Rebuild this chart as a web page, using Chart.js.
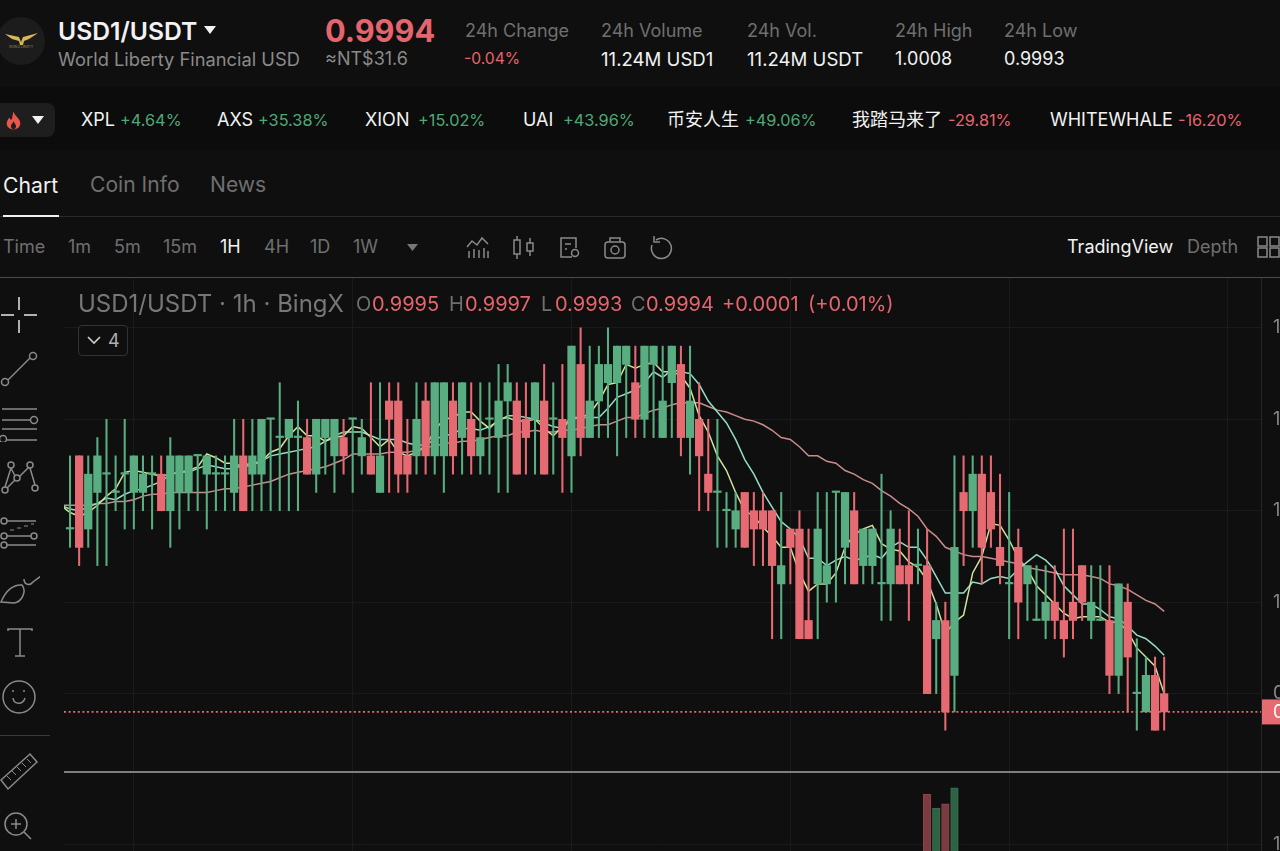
<!DOCTYPE html>
<html>
<head>
<meta charset="utf-8">
<title>USD1/USDT</title>
<script src="https://cdn.jsdelivr.net/npm/chart.js@4"></script>
<style>
  html, body { margin: 0; padding: 0; background: #0f0f0f; }
  body { position: relative; width: 1280px; height: 851px; overflow: hidden; font-family: Inter, "Noto Sans CJK SC", sans-serif; color: #8a8a8a; }
  .t { position: absolute; white-space: nowrap; font-size: 18px; line-height: 24px; transform: translateY(-50%); }
  .w { color: #f2f2f2; }
  .g { color: #8a8a8a; }
  .dim { color: #6f6f6f; }
  .r { color: #e5656e; }
  .u { color: #4fa877; }
  .p { font-size: 16.3px; }
  .o { font-size: 20px; }
  .hr { position: absolute; left: 0; width: 1280px; }
  svg.i { position: absolute; fill: none; stroke: #8a8a8a; stroke-width: 1.5; }
  canvas { position: absolute; }
</style>
</head>
<body>

<svg style="position:absolute;left:-3px;top:17px" width="48" height="48" viewBox="0 0 48 48">
  <circle cx="24" cy="24" r="24" fill="#1c1c1c"/>
  <path d="M8 17 L22 20 L24 25 L26 20 L41 16 L32 22 L27 24 L26 28 L23 28 L22 24 L15 22 Z" fill="#d9b65c"/>
  <text x="24" y="31" text-anchor="middle" font-size="3" fill="#a58a45" font-family="Inter">WORLD LIBERTY</text>
</svg>
<div class="t w" style="left:58px;top:30.5px;font-size:24.7px;font-weight:600">USD1/USDT</div>
<svg style="position:absolute;left:204px;top:26px" width="12" height="8"><path d="M0 0H12L6 8Z" fill="#f2f2f2"/></svg>
<div class="t g" style="left:58px;top:59px;font-size:18.3px">World Liberty Financial USD</div>
<div class="t r" style="left:325px;top:30.5px;font-size:30.7px;font-weight:700">0.9994</div>
<div class="t g" style="left:325px;top:58.5px">≈NT$31.6</div>

<div class="t dim" style="left:465px;top:30.5px">24h Change</div>
<div class="t r" style="left:464px;top:58.5px;font-size:15.7px">-0.04%</div>
<div class="t dim" style="left:601px;top:30.5px">24h Volume</div>
<div class="t w" style="left:601px;top:58.5px;font-size:18.6px">11.24M USD1</div>
<div class="t dim" style="left:747px;top:30.5px">24h Vol.</div>
<div class="t w" style="left:747px;top:58.5px;font-size:18.6px">11.24M USDT</div>
<div class="t dim" style="left:895px;top:30.5px">24h High</div>
<div class="t w" style="left:895px;top:58.5px">1.0008</div>
<div class="t dim" style="left:1004px;top:30.5px">24h Low</div>
<div class="t w" style="left:1004px;top:58.5px">0.9993</div>

<div style="position:absolute;left:0;top:87px;width:1280px;height:63px;background:#0c0c0c"></div>
<div style="position:absolute;left:-10px;top:103px;width:65px;height:34px;background:#1e1e1e;border-radius:8px"></div>
<svg style="position:absolute;left:5px;top:111px" width="17" height="19" viewBox="0 0 20 21"><path d="M10 0 C11 5 18 8 18 14 C18 18 14 21 10 21 C6 21 2 18 2 14 C2 11 4 9 5 7 C6 9 7 10 8 9 C9 6 9 3 10 0Z" fill="#e8574a"/><path d="M10 11 C11 14 13 15 13 17 C13 19 12 21 10 21 C8 21 7 19 7 17 C7 15 9 14 10 11Z" fill="#1e1e1e"/></svg>
<svg style="position:absolute;left:32px;top:116px" width="12" height="8"><path d="M0 0H12L6 8Z" fill="#f2f2f2"/></svg>

<div class="t w" style="left:81px;top:119.5px">XPL</div><div class="t u p" style="left:120px;top:119.5px">+4.64%</div>
<div class="t w" style="left:217px;top:119.5px">AXS</div><div class="t u p" style="left:258px;top:119.5px">+35.38%</div>
<div class="t w" style="left:365px;top:119.5px">XION</div><div class="t u p" style="left:418px;top:119.5px">+15.02%</div>
<div class="t w" style="left:523px;top:119.5px">UAI</div><div class="t u p" style="left:563px;top:119.5px">+43.96%</div>
<div class="t w" style="left:667px;top:119.5px">币安人生</div><div class="t u p" style="left:745px;top:119.5px">+49.06%</div>
<div class="t w" style="left:852px;top:119.5px">我踏马来了</div><div class="t r p" style="left:948px;top:119.5px">-29.81%</div>
<div class="t w" style="left:1050px;top:119.5px">WHITEWHALE</div><div class="t r p" style="left:1178px;top:119.5px">-16.20%</div>

<div class="t w" style="left:3px;top:185px;font-size:21.2px">Chart</div>
<div class="t g" style="left:90px;top:185px;font-size:21.1px;color:#6f6f6f">Coin Info</div>
<div class="t g" style="left:210px;top:185px;font-size:21.1px;color:#6f6f6f">News</div>
<div class="hr" style="top:216px;height:1px;background:#2a2a2e"></div>
<div style="position:absolute;left:3px;top:215px;width:56px;height:2px;background:#f2f2f2"></div>

<div class="t dim" style="left:3px;top:247px">Time</div>
<div class="t dim" style="left:68px;top:247px">1m</div>
<div class="t dim" style="left:114px;top:247px">5m</div>
<div class="t dim" style="left:163px;top:247px">15m</div>
<div class="t w" style="left:220px;top:247px">1H</div>
<div class="t dim" style="left:264px;top:247px">4H</div>
<div class="t dim" style="left:310px;top:247px">1D</div>
<div class="t dim" style="left:353px;top:247px">1W</div>
<svg style="position:absolute;left:407px;top:244px" width="11" height="7"><path d="M0 0H11L5.5 7Z" fill="#777"/></svg>

<svg class="i" style="left:466px;top:236px" width="24" height="24"><path d="M1 11 L6 5 L11 9 L16 2 L22 8"/><path d="M3 22V15M8 22V13M13 22V14M18 22V12M22 22V15"/></svg>
<svg class="i" style="left:512px;top:235px" width="24" height="25"><rect x="2" y="5" width="6" height="14"/><path d="M5 1V5M5 19V24"/><rect x="15" y="8" width="6" height="8"/><path d="M18 3V8M18 16V21"/></svg>
<svg class="i" style="left:558px;top:236px" width="24" height="24"><path d="M14 21H3V2H18V12"/><path d="M7 8H13M7 13H9"/><circle cx="17" cy="17" r="3.5"/></svg>
<svg class="i" style="left:603px;top:236px" width="24" height="24"><rect x="2" y="6" width="20" height="16" rx="3"/><circle cx="12" cy="14" r="4"/><path d="M7 6V2H17V6"/></svg>
<svg class="i" style="left:649px;top:236px" width="24" height="24"><path d="M7 4 A10 10 0 1 1 3 9"/><path d="M5 0V6H11"/></svg>

<div class="t w" style="left:1067px;top:247px">TradingView</div>
<div class="t dim" style="left:1187px;top:247px">Depth</div>
<svg class="i" style="left:1257px;top:236px" width="23" height="22"><rect x="1" y="1" width="9" height="9"/><rect x="13" y="1" width="9" height="9"/><rect x="1" y="12" width="9" height="9"/><rect x="13" y="12" width="9" height="9"/></svg>
<div class="hr" style="top:277px;height:1px;background:#4a4a4a"></div>

<canvas id="priceChart" style="left:64px;top:278px" width="1216" height="494"></canvas>
<canvas id="volumeChart" style="left:64px;top:773px" width="1216" height="78"></canvas>
<div class="hr" style="top:771px;left:64px;height:2px;background:#7e7e7e;width:1216px"></div>

<div class="t g" style="left:78px;top:303.5px;font-size:24px;color:#777">USD1/USDT · 1h · BingX</div>
<div class="t dim o" style="left:356px;top:303.5px">O</div><div class="t r o" style="left:372px;top:303.5px">0.9995</div>
<div class="t dim o" style="left:449px;top:303.5px">H</div><div class="t r o" style="left:465px;top:303.5px">0.9997</div>
<div class="t dim o" style="left:541px;top:303.5px">L</div><div class="t r o" style="left:555px;top:303.5px">0.9993</div>
<div class="t dim o" style="left:631px;top:303.5px">C</div><div class="t r o" style="left:646px;top:303.5px">0.9994</div>
<div class="t r o" style="left:722px;top:303.5px">+0.0001</div><div class="t r o" style="left:808px;top:303.5px">(+0.01%)</div>
<div style="position:absolute;left:78px;top:325px;width:48px;height:29px;border:1px solid #333;border-radius:4px;background:#0f0f0f"></div>
<svg style="position:absolute;left:87px;top:336px" width="14" height="9" fill="none" stroke="#d0d0d0" stroke-width="1.6"><path d="M1 1L7 7L13 1"/></svg>
<div class="t" style="left:108px;top:340.5px;color:#b0b0b0">4</div>

<svg class="i" style="left:0;top:296px;stroke:#e8e8e8" width="38" height="38"><path d="M1 19H14M24 19H37M19 1V14M19 24V37"/></svg>
<svg class="i" style="left:0;top:350px" width="38" height="38"><circle cx="5" cy="32" r="3.5"/><circle cx="33" cy="6" r="3.5"/><path d="M8 30L30 8"/></svg>
<svg class="i" style="left:0;top:406px" width="40" height="36"><path d="M2 3H37M2 14H30M2 23H37M7 34H37"/><circle cx="34" cy="14" r="3.5"/><circle cx="3" cy="33" r="3.5"/></svg>
<svg class="i" style="left:0;top:460px" width="40" height="36"><circle cx="11" cy="5" r="3"/><circle cx="30" cy="5" r="3"/><circle cx="17" cy="18" r="3"/><circle cx="5" cy="30" r="3"/><circle cx="35" cy="28" r="3"/><path d="M11 8L5 27M11 8L15 16M19 17L29 7M30 8L35 25M15 20L7 28"/></svg>
<svg class="i" style="left:0;top:516px" width="40" height="36"><circle cx="4" cy="5" r="3"/><circle cx="4" cy="20" r="3"/><circle cx="4" cy="29" r="3"/><circle cx="34" cy="20" r="3"/><path d="M7 5H36M7 20H31M7 29H36"/><path d="M10 14H14M17 12H21M24 10H28M31 8H34" stroke-width="1"/></svg>
<svg class="i" style="left:0;top:572px" width="40" height="34"><path d="M1 30 C6 18 14 12 22 13 C27 19 22 30 14 31 Z"/><path d="M24 7 C24 13 30 14 33 10 L41 4"/></svg>
<svg class="i" style="left:6px;top:628px" width="30" height="30"><path d="M2 3V1H26V3M14 1V28M9 28H19"/></svg>
<svg class="i" style="left:0;top:680px" width="38" height="36"><circle cx="19" cy="17" r="16"/><path d="M13 18 C14 25 23 25 25 18"/><path d="M13 10V12M24 10V12"/></svg>
<div style="position:absolute;left:0;top:735px;width:50px;height:1px;background:#3a3a3a"></div>
<svg class="i" style="left:0;top:752px" width="40" height="40"><path d="M1 28L30 2L37 10L8 37Z"/><path d="M7 24L11 28M12 19L16 23M17 15L21 19M22 11L26 15M27 7L31 11" stroke-width="1"/></svg>
<svg class="i" style="left:2px;top:810px" width="32" height="32"><circle cx="14" cy="14" r="11"/><path d="M9 14H19M14 9V19M22 22L29 29"/></svg>

<script>
// candles, one hour each, oldest first
const candleIndex = Array.from({ length: 121 }, (_, i) => i);
const opens = [
  1.0004, 1.0008, 1.0004, 1.0006, 1.0007, 1.0006, 1.0007, 1.0006, 1.0006, 1.0007,
  1.0007, 1.0005, 1.0006, 1.0006, 1.0008, 1.0007, 1.0007, 1.0007, 1.0006, 1.0008,
  1.0007, 1.0007, 1.0010, 1.0009, 1.0009, 1.0009, 1.0009, 1.0007, 1.0009, 1.0008,
  1.0009, 1.0010, 1.0008, 1.0008, 1.0006, 1.0011, 1.0011, 1.0008, 1.0008, 1.0011,
  1.0008, 1.0008, 1.0011, 1.0009, 1.0010, 1.0008, 1.0010, 1.0009, 1.0011, 1.0011,
  1.0010, 1.0010, 1.0011, 1.0010, 1.0010, 1.0008, 1.0013, 1.0009, 1.0011, 1.0012,
  1.0012, 1.0013, 1.0012, 1.0010, 1.0013, 1.0009, 1.0012, 1.0013, 1.0009, 1.0010,
  1.0007, 1.0006, 1.0005, 1.0004, 1.0006, 1.0005, 1.0005, 1.0005, 1.0001, 1.0004,
  1.0004, 0.9999, 1.0001, 1.0001, 1.0006, 1.0003, 1.0005, 1.0002, 1.0002, 1.0001,
  1.0001, 1.0002, 1.0002, 1.0002, 1.0002, 0.9998, 0.9999, 0.9996, 1.0006, 1.0005,
  1.0007, 1.0006, 1.0003, 1.0001, 1.0003, 1.0001, 0.9999, 0.9999, 1.0000, 0.9999,
  1.0000, 1.0002, 0.9999, 0.9999, 0.9999, 0.9996, 1.0000, 0.9995, 0.9994, 0.9996,
  0.9995
];
const highs = [
  1.0008, 1.0008, 1.0008, 1.0009, 1.0010, 1.0008, 1.0010, 1.0008, 1.0008, 1.0008,
  1.0008, 1.0009, 1.0008, 1.0008, 1.0008, 1.0008, 1.0008, 1.0008, 1.0010, 1.0010,
  1.0010, 1.0010, 1.0010, 1.0012, 1.0010, 1.0011, 1.0010, 1.0010, 1.0010, 1.0010,
  1.0010, 1.0010, 1.0010, 1.0012, 1.0012, 1.0012, 1.0012, 1.0010, 1.0012, 1.0012,
  1.0012, 1.0012, 1.0012, 1.0012, 1.0012, 1.0012, 1.0012, 1.0013, 1.0013, 1.0012,
  1.0012, 1.0012, 1.0013, 1.0012, 1.0013, 1.0014, 1.0015, 1.0014, 1.0014, 1.0015,
  1.0014, 1.0014, 1.0014, 1.0014, 1.0014, 1.0014, 1.0014, 1.0014, 1.0014, 1.0012,
  1.0010, 1.0010, 1.0006, 1.0006, 1.0006, 1.0006, 1.0006, 1.0005, 1.0006, 1.0004,
  1.0005, 1.0004, 1.0006, 1.0006, 1.0006, 1.0006, 1.0006, 1.0004, 1.0004, 1.0007,
  1.0005, 1.0004, 1.0005, 1.0004, 1.0004, 1.0000, 1.0000, 1.0008, 1.0008, 1.0008,
  1.0008, 1.0008, 1.0007, 1.0006, 1.0004, 1.0002, 1.0002, 1.0002, 1.0002, 1.0004,
  1.0004, 1.0002, 1.0002, 1.0002, 1.0002, 1.0001, 1.0001, 0.9998, 0.9997, 0.9997,
  0.9997
];
const lows = [
  1.0003, 1.0002, 1.0003, 1.0002, 1.0002, 1.0005, 1.0004, 1.0004, 1.0005, 1.0004,
  1.0005, 1.0003, 1.0004, 1.0005, 1.0005, 1.0004, 1.0005, 1.0005, 1.0005, 1.0005,
  1.0005, 1.0005, 1.0005, 1.0005, 1.0005, 1.0005, 1.0007, 1.0006, 1.0007, 1.0006,
  1.0007, 1.0006, 1.0007, 1.0007, 1.0006, 1.0006, 1.0006, 1.0006, 1.0007, 1.0007,
  1.0007, 1.0006, 1.0007, 1.0007, 1.0007, 1.0007, 1.0007, 1.0006, 1.0006, 1.0007,
  1.0007, 1.0007, 1.0007, 1.0007, 1.0006, 1.0006, 1.0008, 1.0009, 1.0009, 1.0009,
  1.0008, 1.0009, 1.0009, 1.0009, 1.0009, 1.0009, 1.0009, 1.0008, 1.0007, 1.0005,
  1.0005, 1.0003, 1.0003, 1.0003, 1.0003, 1.0002, 1.0002, 0.9998, 0.9998, 1.0001,
  0.9998, 0.9998, 0.9998, 1.0000, 1.0000, 1.0001, 1.0001, 1.0001, 1.0001, 0.9999,
  0.9999, 1.0001, 0.9999, 1.0001, 0.9995, 0.9995, 0.9993, 0.9994, 1.0002, 1.0003,
  1.0001, 1.0003, 1.0001, 0.9998, 0.9998, 0.9999, 0.9999, 0.9998, 0.9998, 0.9997,
  0.9998, 0.9999, 0.9998, 0.9999, 0.9995, 0.9995, 0.9994, 0.9993, 0.9994, 0.9993,
  0.9993
];
const closes = [
  1.0004, 1.0003, 1.0007, 1.0008, 1.0007, 1.0006, 1.0007, 1.0008, 1.0007, 1.0007,
  1.0005, 1.0008, 1.0008, 1.0008, 1.0008, 1.0008, 1.0007, 1.0007, 1.0008, 1.0005,
  1.0008, 1.0010, 1.0010, 1.0009, 1.0010, 1.0009, 1.0007, 1.0010, 1.0010, 1.0010,
  1.0008, 1.0010, 1.0009, 1.0007, 1.0008, 1.0010, 1.0007, 1.0007, 1.0010, 1.0008,
  1.0012, 1.0012, 1.0008, 1.0012, 1.0008, 1.0009, 1.0010, 1.0011, 1.0012, 1.0007,
  1.0009, 1.0012, 1.0007, 1.0010, 1.0009, 1.0014, 1.0009, 1.0011, 1.0013, 1.0013,
  1.0014, 1.0014, 1.0010, 1.0014, 1.0014, 1.0011, 1.0014, 1.0009, 1.0011, 1.0008,
  1.0006, 1.0006, 1.0005, 1.0005, 1.0003, 1.0004, 1.0004, 1.0002, 1.0002, 1.0003,
  0.9998, 0.9998, 1.0004, 1.0002, 1.0006, 1.0006, 1.0001, 1.0004, 1.0004, 1.0001,
  1.0004, 1.0001, 1.0001, 1.0002, 0.9995, 0.9999, 0.9994, 1.0003, 1.0005, 1.0007,
  1.0003, 1.0004, 1.0002, 1.0001, 1.0000, 1.0002, 0.9999, 1.0000, 0.9999, 0.9998,
  0.9999, 1.0000, 1.0000, 0.9999, 0.9996, 1.0001, 0.9997, 0.9995, 0.9996, 0.9993,
  0.9994
];

// moving averages, first value sits one candle before the first body
const maFast = [
  1.00053, 1.00049, 1.00047, 1.00049, 1.00053, 1.00058, 1.00062, 1.00071, 1.00072, 1.00071,
  1.00070, 1.00069, 1.00070, 1.00071, 1.00072, 1.00074, 1.00081, 1.00079, 1.00076, 1.00076,
  1.00074, 1.00075, 1.00077, 1.00082, 1.00084, 1.00091, 1.00096, 1.00091, 1.00091, 1.00088,
  1.00090, 1.00091, 1.00096, 1.00095, 1.00090, 1.00085, 1.00089, 1.00082, 1.00080, 1.00082,
  1.00085, 1.00094, 1.00100, 1.00101, 1.00104, 1.00104, 1.00099, 1.00095, 1.00100, 1.00101,
  1.00099, 1.00099, 1.00100, 1.00095, 1.00091, 1.00096, 1.00101, 1.00101, 1.00103, 1.00110,
  1.00119, 1.00120, 1.00130, 1.00128, 1.00130, 1.00131, 1.00126, 1.00126, 1.00124, 1.00117,
  1.00102, 1.00093, 1.00080, 1.00072, 1.00060, 1.00050, 1.00047, 1.00041, 1.00036, 1.00030,
  1.00030, 1.00016, 1.00006, 1.00010, 1.00010, 1.00016, 1.00030, 1.00037, 1.00040, 1.00042,
  1.00032, 1.00029, 1.00028, 1.00022, 1.00019, 1.00012, 0.99999, 0.99983, 0.99989, 0.99993,
  1.00016, 1.00025, 1.00043, 1.00042, 1.00034, 1.00024, 1.00018, 1.00009, 1.00004, 0.99999,
  0.99994, 0.99991, 0.99992, 0.99992, 0.99992, 0.99989, 0.99989, 0.99984, 0.99975, 0.99970,
  0.99965, 0.99950
];
const maMid = [
  1.00053, 1.00051, 1.00050, 1.00052, 1.00054, 1.00057, 1.00056, 1.00059, 1.00061, 1.00062,
  1.00064, 1.00066, 1.00070, 1.00071, 1.00071, 1.00073, 1.00075, 1.00074, 1.00073, 1.00073,
  1.00075, 1.00076, 1.00077, 1.00080, 1.00081, 1.00082, 1.00083, 1.00084, 1.00085, 1.00088,
  1.00091, 1.00093, 1.00093, 1.00093, 1.00091, 1.00089, 1.00089, 1.00089, 1.00087, 1.00086,
  1.00086, 1.00089, 1.00091, 1.00092, 1.00095, 1.00095, 1.00094, 1.00096, 1.00099, 1.00102,
  1.00102, 1.00101, 1.00100, 1.00098, 1.00096, 1.00095, 1.00100, 1.00101, 1.00101, 1.00101,
  1.00106, 1.00112, 1.00114, 1.00116, 1.00120, 1.00126, 1.00123, 1.00127, 1.00126, 1.00125,
  1.00119, 1.00110, 1.00104, 1.00098, 1.00089, 1.00078, 1.00070, 1.00060, 1.00052, 1.00044,
  1.00040, 1.00035, 1.00024, 1.00024, 1.00020, 1.00023, 1.00025, 1.00023, 1.00024, 1.00026,
  1.00024, 1.00030, 1.00033, 1.00030, 1.00030, 1.00023, 1.00014, 1.00005, 1.00005, 1.00005,
  1.00011, 1.00010, 1.00013, 1.00014, 1.00013, 1.00018, 1.00022, 1.00026, 1.00023, 1.00018,
  1.00009, 1.00004, 0.99999, 0.99999, 0.99996, 0.99992, 0.99991, 0.99987, 0.99982, 0.99980,
  0.99976, 0.99971
];
const maSlow = [
  1.00053, 1.00053, 1.00053, 1.00053, 1.00054, 1.00054, 1.00055, 1.00055, 1.00056, 1.00058,
  1.00059, 1.00059, 1.00060, 1.00060, 1.00060, 1.00060, 1.00060, 1.00061, 1.00062, 1.00062,
  1.00063, 1.00064, 1.00065, 1.00066, 1.00068, 1.00070, 1.00071, 1.00072, 1.00073, 1.00074,
  1.00076, 1.00078, 1.00081, 1.00081, 1.00081, 1.00081, 1.00082, 1.00082, 1.00082, 1.00083,
  1.00085, 1.00085, 1.00087, 1.00087, 1.00088, 1.00088, 1.00089, 1.00090, 1.00091, 1.00091,
  1.00093, 1.00093, 1.00094, 1.00093, 1.00093, 1.00094, 1.00094, 1.00095, 1.00096, 1.00097,
  1.00097, 1.00099, 1.00101, 1.00101, 1.00103, 1.00105, 1.00106, 1.00108, 1.00109, 1.00109,
  1.00109, 1.00107, 1.00105, 1.00104, 1.00102, 1.00100, 1.00099, 1.00097, 1.00094, 1.00090,
  1.00089, 1.00085, 1.00080, 1.00080, 1.00077, 1.00076, 1.00072, 1.00070, 1.00067, 1.00065,
  1.00061, 1.00058, 1.00054, 1.00051, 1.00047, 1.00040, 1.00036, 1.00030, 1.00028, 1.00026,
  1.00025, 1.00025, 1.00024, 1.00023, 1.00022, 1.00021, 1.00019, 1.00018, 1.00017, 1.00016,
  1.00015, 1.00015, 1.00015, 1.00014, 1.00013, 1.00010, 1.00009, 1.00007, 1.00004, 1.00001,
  0.99999, 0.99995
];

const priceTicks = [0.9995, 1.0000, 1.0005, 1.0010, 1.0015];
const gridCandles = [7, 31, 55, 79, 103, 127];
const lastPrice = 0.9994;

// only the tallest volume bars reach above the bottom edge of the page
const volumeCandles = [94, 95, 96, 97];
const volumeValues = [1.92, 1.67, 1.75, 2.04];
const volumeTicks = [1];

const UP = '#58ae80';
const DOWN = '#e56a72';
const GRID = '#1a1a1a';
const XMIN = -0.66;
const XMAX = 130.62;

// tiny lineHeight and no tick padding stop the edge labels from shrinking the plot area
const tickFont = { family: 'Inter', size: 18, lineHeight: 0.01 };

function candleColor(i) { return closes[i] < opens[i] ? DOWN : UP; }

function gridTicks(scale) { scale.ticks = gridCandles.map(v => ({ value: v })); }

function xAxis() {
  return {
    type: 'linear', min: XMIN, max: XMAX, offset: false,
    afterBuildTicks: gridTicks,
    grid: { color: GRID, offset: false, drawTicks: false },
    border: { display: false },
    ticks: { display: false }
  };
}

function yAxis(extra) {
  return Object.assign({
    position: 'right',
    afterFit: scale => { scale.width = 19; },
    grid: { color: GRID, drawTicks: true, tickLength: 12, tickColor: 'transparent' },
    border: { display: true, color: '#262626' }
  }, extra);
}

const lastPriceLabel = {
  id: 'lastPriceLabel',
  afterDraw(chart) {
    const y = chart.scales.y.getPixelForValue(lastPrice);
    const x = chart.chartArea.right + 1;
    const ctx = chart.ctx;
    ctx.save();
    ctx.fillStyle = DOWN;
    ctx.fillRect(x, y - 12.5, 19, 25);
    ctx.fillStyle = '#ffffff';
    ctx.font = '18px Inter';
    ctx.textBaseline = 'middle';
    ctx.fillText(lastPrice.toFixed(4), x + 11, y + 1);
    ctx.restore();
  }
};

function maLine(values, color, order) {
  return {
    type: 'line', order: order, data: values.map((v, i) => ({ x: i - 1, y: v })),
    borderColor: color, borderWidth: 1.5, pointRadius: 0, tension: 0
  };
}

new Chart(document.getElementById('priceChart'), {
  type: 'bar',
  data: {
    datasets: [
      {
        order: 0, grouped: false, barThickness: 7.6, minBarLength: 1.5,
        data: candleIndex.map(i => ({ x: i, y: [opens[i], closes[i]] })),
        backgroundColor: candleIndex.map(candleColor), borderWidth: 0
      },
      {
        order: 1, grouped: false, barThickness: 1.4,
        data: candleIndex.map(i => ({ x: i, y: [lows[i], highs[i]] })),
        backgroundColor: candleIndex.map(candleColor), borderWidth: 0
      },
      maLine(maFast, '#cfe39c', 2),
      maLine(maMid, '#93dfc4', 3),
      maLine(maSlow, '#c98c8c', 4),
      {
        type: 'line', order: 5, data: [{ x: XMIN, y: lastPrice }, { x: XMAX, y: lastPrice }],
        borderColor: DOWN, borderWidth: 1.6, borderDash: [2, 2.6], pointRadius: 0
      }
    ]
  },
  options: {
    responsive: false, animation: false, events: [],
    layout: { padding: 0, autoPadding: false },
    plugins: { legend: { display: false }, tooltip: { enabled: false } },
    scales: {
      x: xAxis(),
      y: yAxis({
        min: 0.999072, max: 1.001772,
        afterBuildTicks: scale => { scale.ticks = priceTicks.map(v => ({ value: v })); },
        ticks: { color: '#8a8a8a', font: tickFont, padding: 0, callback: v => v.toFixed(4) }
      })
    }
  },
  plugins: [lastPriceLabel]
});

new Chart(document.getElementById('volumeChart'), {
  type: 'bar',
  data: {
    datasets: [{
      barThickness: 7.6,
      data: volumeCandles.map((c, i) => ({ x: c, y: volumeValues[i] })),
      backgroundColor: volumeCandles.map(c => closes[c] < opens[c] ? '#7a3b41' : '#2f6145'),
      borderColor: volumeCandles.map(c => closes[c] < opens[c] ? '#8c444b' : '#37704f'),
      borderWidth: 1
    }]
  },
  options: {
    responsive: false, animation: false, events: [],
    layout: { padding: 0, autoPadding: false },
    plugins: { legend: { display: false }, tooltip: { enabled: false } },
    scales: {
      x: xAxis(),
      y: yAxis({
        min: 0.891, max: 2.309,
        afterBuildTicks: scale => { scale.ticks = volumeTicks.map(v => ({ value: v })); },
        ticks: { color: '#8a8a8a', font: tickFont, padding: 0, callback: v => v.toFixed(2) + 'M' }
      })
    }
  }
});
</script>
</body>
</html>
